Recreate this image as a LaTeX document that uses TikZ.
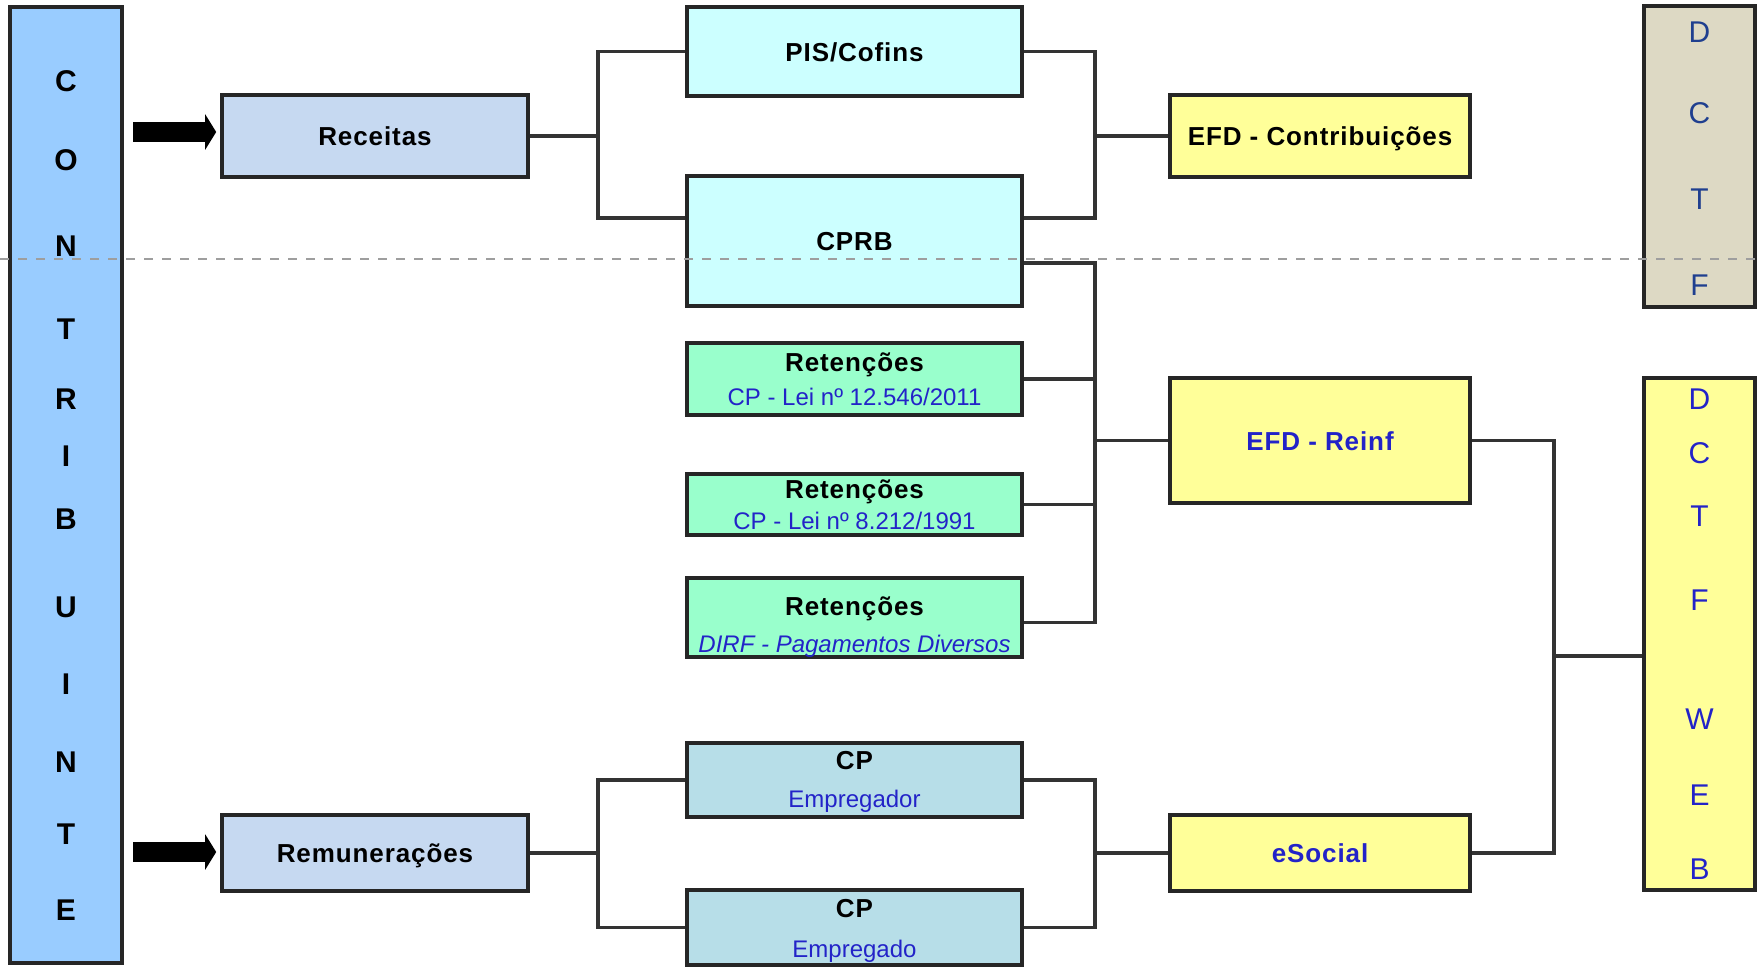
\documentclass[tikz,border=0pt]{standalone}
\usepackage{fontspec}
\setmainfont{Liberation Sans}
\newfontfamily\negrito{Liberation Sans}[LetterSpace=3.5]
\usetikzlibrary{arrows.meta}

\definecolor{azulC}{HTML}{99CCFF}
\definecolor{azulR}{HTML}{C6D9F1}
\definecolor{ciano}{HTML}{CCFFFF}
\definecolor{verde}{HTML}{99FFCC}
\definecolor{azulCP}{HTML}{B7DEE8}
\definecolor{amarelo}{HTML}{FFFF99}
\definecolor{bege}{HTML}{DDD9C4}
\definecolor{azulT}{HTML}{2323C8}
\definecolor{marinho}{HTML}{1F3F8F}

\newcommand{\linha}[1]{{\normalfont\fontsize{12}{17}\selectfont\color{azulT}#1}}

\begin{document}
\begin{tikzpicture}[x=0.5pt,y=0.5pt]
                        \tikzstyle{every node}+=[inner sep=0pt]
                        \tikzstyle{caixa}=[draw=black!85, line width=1.8pt, minimum width=167.5pt, align=center, font=\negrito\bfseries\fontsize{13}{17}\selectfont]
                        \tikzstyle{simples}=[text height=9.5pt, text depth=0pt]
                        \tikzstyle{letra}=[font=\fontsize{15}{15}\selectfont]
                        \tikzstyle{ligacao}=[draw=black!80, line width=1.6pt]
                        \tikzstyle{seta}=[line width=10pt, -{Triangle[length=5.5pt,width=17.5pt]}, shorten >=2pt]
                        \tikzstyle{tracejado}=[draw=black!38, line width=1.3pt, dash pattern=on 4.5pt off 4.5pt]
                        \useasboundingbox (0,0) rectangle (1760,-966);
                        % contribuinte
                        \node [caixa, fill=azulC, minimum width=56pt, minimum height=478pt] (contrib) at (66,-485) {};
                        \node [letra, font=\bfseries\fontsize{15}{15}\selectfont] (c1) at (66,-81) {C};
                        \node [letra, font=\bfseries\fontsize{15}{15}\selectfont] (c2) at (66,-160) {O};
                        \node [letra, font=\bfseries\fontsize{15}{15}\selectfont] (c3) at (66,-246) {N};
                        \node [letra, font=\bfseries\fontsize{15}{15}\selectfont] (c4) at (66,-329) {T};
                        \node [letra, font=\bfseries\fontsize{15}{15}\selectfont] (c5) at (66,-399) {R};
                        \node [letra, font=\bfseries\fontsize{15}{15}\selectfont] (c6) at (66,-456) {I};
                        \node [letra, font=\bfseries\fontsize{15}{15}\selectfont] (c7) at (66,-519) {B};
                        \node [letra, font=\bfseries\fontsize{15}{15}\selectfont] (c8) at (66,-607) {U};
                        \node [letra, font=\bfseries\fontsize{15}{15}\selectfont] (c9) at (66,-684) {I};
                        \node [letra, font=\bfseries\fontsize{15}{15}\selectfont] (c10) at (66,-762) {N};
                        \node [letra, font=\bfseries\fontsize{15}{15}\selectfont] (c11) at (66,-834) {T};
                        \node [letra, font=\bfseries\fontsize{15}{15}\selectfont] (c12) at (66,-910) {E};
                        % entradas
                        \node [caixa, simples, fill=azulR, minimum width=153pt, minimum height=41pt] (rec) at (375,-136) {Receitas};
                        \node [caixa, simples, fill=azulR, minimum width=153pt, minimum height=38pt] (rem) at (375,-853) {Remunerações};
                        % tributos
                        \node [caixa, simples, fill=ciano, minimum height=44.5pt] (pis) at (854.5,-51.5) {PIS/Cofins};
                        \node [caixa, simples, fill=ciano, minimum height=65pt] (cprb) at (854.5,-241) {CPRB};
                        \node [caixa, fill=verde, minimum height=36pt] (ret1) at (854.5,-379) {Retenções\\\linha{CP - Lei nº 12.546/2011}};
                        \node [caixa, fill=verde, minimum height=30.5pt] (ret2) at (854.5,-504.5) {Retenções\\[-1.5pt]\linha{CP - Lei nº 8.212/1991}};
                        \node [caixa, fill=verde, minimum height=39.5pt] (ret3) at (854.5,-617.5) {\rule{0pt}{18.5pt}Retenções\\[1.5pt]\linha{\itshape DIRF - Pagamentos Diversos}};
                        \node [caixa, fill=azulCP, minimum height=37pt] (cp1) at (854.5,-780) {\rule{0pt}{11pt}CP\\[2pt]\linha{Empregador}};
                        \node [caixa, fill=azulCP, minimum height=37.5pt] (cp2) at (854.5,-927.5) {\rule{0pt}{12pt}CP\\[3pt]\linha{Empregado}};
                        % escrituracoes
                        \node [caixa, simples, fill=amarelo, minimum width=150pt, minimum height=41pt] (efdc) at (1320,-136) {EFD - Contribuições};
                        \node [caixa, simples, fill=amarelo, text=azulT, minimum width=150pt, minimum height=62.5pt] (reinf) at (1320,-440.5) {EFD - Reinf};
                        \node [caixa, simples, fill=amarelo, text=azulT, minimum width=150pt, minimum height=38pt] (esoc) at (1320,-853) {eSocial};
                        % declaracoes
                        \node [caixa, fill=bege, minimum width=55.5pt, minimum height=150.5pt] (dctf) at (1699.5,-156.5) {};
                        \node [letra, text=marinho] (d1) at (1699.5,-32) {D};
                        \node [letra, text=marinho] (d2) at (1699.5,-113) {C};
                        \node [letra, text=marinho] (d3) at (1699.5,-199) {T};
                        \node [letra, text=marinho] (d4) at (1699.5,-285) {F};
                        \node [caixa, fill=amarelo, minimum width=55.5pt, minimum height=256pt] (dctfweb) at (1699.5,-634) {};
                        \node [letra, text=azulT] (w1) at (1699.5,-399) {D};
                        \node [letra, text=azulT] (w2) at (1699.5,-453) {C};
                        \node [letra, text=azulT] (w3) at (1699.5,-516) {T};
                        \node [letra, text=azulT] (w4) at (1699.5,-600) {F};
                        \node [letra, text=azulT] (w5) at (1699.5,-719) {W};
                        \node [letra, text=azulT] (w6) at (1699.5,-795) {E};
                        \node [letra, text=azulT] (w7) at (1699.5,-869) {B};
                        % setas
                        \coordinate (s1) at (133,-132);
                        \coordinate (s2) at (133,-852);
                        \draw [seta] (s1) -- (s1 -| rec.west);
                        \draw [seta] (s2) -- (s2 -| rem.west);
                        % ligacoes
                        \coordinate (j1) at (598,-136);
                        \coordinate (j2) at (1095,-136);
                        \coordinate (j3) at (1095,-440.5);
                        \coordinate (j4) at (598,-853);
                        \coordinate (j5) at (1095,-853);
                        \coordinate (j6) at (1554,-656);
                        \draw [ligacao] (rec.east) -- (j1);
                        \draw [ligacao] (pis.west) -| (j1) |- ([yshift=11.5pt]cprb.west);
                        \draw [ligacao] (pis.east) -| (j2) |- ([yshift=11.5pt]cprb.east);
                        \draw [ligacao] (j2) -- (efdc.west);
                        \draw [ligacao] ([yshift=-11pt]cprb.east) -| (j3) |- ([yshift=-2.5pt]ret3.east);
                        \draw [ligacao] (ret1.east) -- (ret1.east -| j3);
                        \draw [ligacao] (ret2.east) -- (ret2.east -| j3);
                        \draw [ligacao] (j3) -- (reinf.west);
                        \draw [ligacao] (rem.east) -- (j4);
                        \draw [ligacao] (cp1.west) -| (j4) |- (cp2.west);
                        \draw [ligacao] (cp1.east) -| (j5) |- (cp2.east);
                        \draw [ligacao] (j5) -- (esoc.west);
                        \draw [ligacao] (reinf.east) -| (j6) |- (esoc.east);
                        \draw [ligacao] (j6) -- (j6 -| dctfweb.west);
                        % linha tracejada
                        \coordinate (t1) at (0,-259);
                        \coordinate (t2) at (1760,-259);
                        \draw [tracejado] (t1) -- (t2);
                    \end{tikzpicture}
\end{document}
